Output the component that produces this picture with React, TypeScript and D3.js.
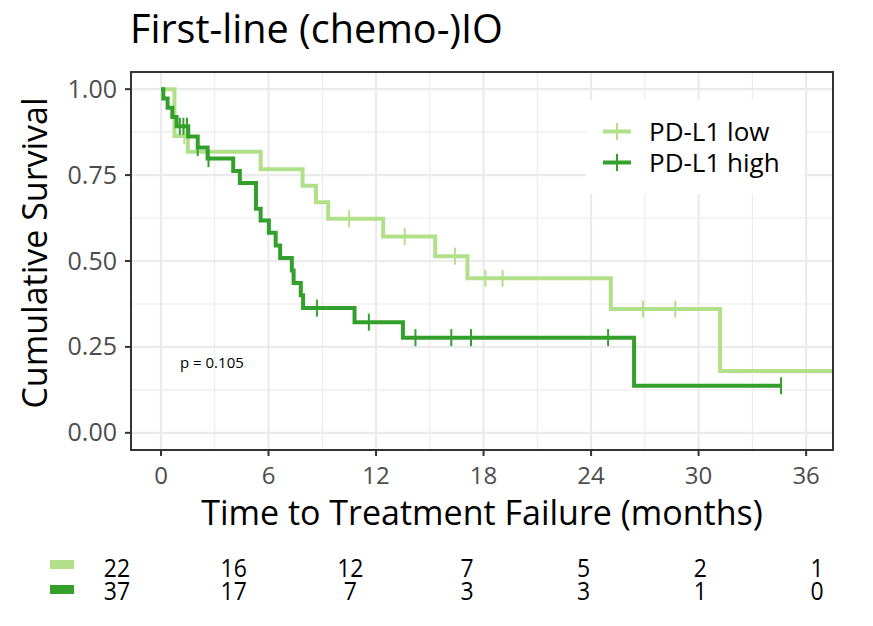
import React from "react";
import * as d3 from "d3";

const W = 873;
const H = 626;

const title = "First-line (chemo-)IO";
const xTitle = "Time to Treatment Failure (months)";
const yTitle = "Cumulative Survival";
const pValueText = "p = 0.105";

const timeTicks = [0, 6, 12, 18, 24, 30, 36];
const timeMinor = [3, 9, 15, 21, 27, 33];
const survTicks = [0, 0.25, 0.5, 0.75, 1];
const survMinor = [0.125, 0.375, 0.625, 0.875];

const groupNames = ["PD-L1 low", "PD-L1 high"];
const groupColors = ["#B2DF8A", "#33A02C"];

// PD-L1 low: step times and survival after each step
const lowStepTimes = [0, 0.75, 1.5, 5.56, 7.9, 8.65, 9.33, 12.4, 15.3, 17.1, 25.1, 31.2];
const lowStepSurv = [1, 0.864, 0.818, 0.767, 0.719, 0.671, 0.623, 0.571, 0.514, 0.45, 0.36, 0.18];
const lowEndTime = 38.5;
const lowCensorTimes = [1.3, 10.5, 13.6, 16.4, 18.1, 19.06, 26.9, 28.7];

// PD-L1 high
const highStepTimes = [0, 0.13, 0.37, 0.63, 0.87, 1.52, 2.05, 2.6, 4.03, 4.4, 5.3, 5.56, 6.02, 6.4, 6.65, 7.3, 7.4, 7.8, 7.93, 10.8, 13.5, 26.4];
const highStepSurv = [1, 0.973, 0.946, 0.919, 0.892, 0.862, 0.83, 0.798, 0.762, 0.727, 0.652, 0.618, 0.582, 0.545, 0.509, 0.472, 0.436, 0.4, 0.363, 0.322, 0.277, 0.137];
const highEndTime = 34.6;
const highCensorTimes = [1.05, 1.25, 1.45, 2.05, 2.65, 8.7, 11.6, 14.2, 16.2, 17.3, 24.95, 34.6];

// Numbers at risk
const riskTimes = [0, 6, 12, 18, 24, 30, 36];
const lowAtRisk = [22, 16, 12, 7, 5, 2, 1];
const highAtRisk = [37, 17, 7, 3, 3, 1, 0];

const FONT = "'Open Sans', 'Noto Sans', sans-serif";

function survAt(times: number[], surv: number[], t: number) {
  let s = surv[0];
  for (let i = 0; i < times.length; i++) if (times[i] <= t) s = surv[i];
  return s;
}

export default function App() {
  const panel = { left: 131, right: 833, top: 72, bottom: 450 };
  const x = d3.scaleLinear().domain([-1.674, 37.5]).range([panel.left, panel.right]);
  const y = d3.scaleLinear().domain([-0.05, 1.05]).range([panel.bottom, panel.top]);
  const riskX = d3.scaleLinear().domain([0, 36]).range([117, 817]);

  const line = d3
    .line<[number, number]>()
    .x((d) => x(d[0]))
    .y((d) => y(d[1]))
    .curve(d3.curveStepAfter);

  const series = [
    { times: lowStepTimes, surv: lowStepSurv, end: lowEndTime, censor: lowCensorTimes, color: groupColors[0] },
    { times: highStepTimes, surv: highStepSurv, end: highEndTime, censor: highCensorTimes, color: groupColors[1] },
  ];

  const legend = { x: 586, y: 100, w: 218, h: 94 };

  return (
    <svg width={W} height={H} style={{ position: "absolute", left: 0, top: 0, background: "#fff" }} fontFamily={FONT}>
      <rect x={0} y={0} width={W} height={H} fill="#fff" />
      <defs>
        <clipPath id="panelClip">
          <rect x={panel.left} y={panel.top} width={panel.right - panel.left} height={panel.bottom - panel.top} />
        </clipPath>
      </defs>
      <text x={130} y={43} fontSize={39.6} fill="#000">{title}</text>

      {/* grid */}
      <g clipPath="url(#panelClip)">
        {timeMinor.map((t) => (
          <line key={"xm" + t} x1={x(t)} x2={x(t)} y1={panel.top} y2={panel.bottom} stroke="#EBEBEB" strokeWidth={1.1} />
        ))}
        {survMinor.map((s) => (
          <line key={"ym" + s} x1={panel.left} x2={panel.right} y1={y(s)} y2={y(s)} stroke="#EBEBEB" strokeWidth={1.1} />
        ))}
        {timeTicks.map((t) => (
          <line key={"xg" + t} x1={x(t)} x2={x(t)} y1={panel.top} y2={panel.bottom} stroke="#EBEBEB" strokeWidth={2.2} />
        ))}
        {survTicks.map((s) => (
          <line key={"yg" + s} x1={panel.left} x2={panel.right} y1={y(s)} y2={y(s)} stroke="#EBEBEB" strokeWidth={2.2} />
        ))}
      </g>

      {/* curves */}
      <g clipPath="url(#panelClip)">
        {series.map((s, i) => {
          const pts: [number, number][] = s.times.map((t, j) => [t, s.surv[j]] as [number, number]);
          pts.push([s.end, s.surv[s.surv.length - 1]]);
          return (
            <g key={"s" + i}>
              <path d={line(pts) || ""} fill="none" stroke={s.color} strokeWidth={4} />
              {s.censor.map((c, k) => {
                const yy = y(survAt(s.times, s.surv, c));
                return <line key={k} x1={x(c)} x2={x(c)} y1={yy - 8.5} y2={yy + 8.5} stroke={s.color} strokeWidth={2} />;
              })}
            </g>
          );
        })}
      </g>

      <text x={180} y={368} fontSize={15} fill="#000">{pValueText}</text>

      {/* legend */}
      <rect x={legend.x} y={legend.y} width={legend.w} height={legend.h} fill="#fff" />
      {groupNames.map((g, i) => {
        const cy = 131.5 + i * 31;
        return (
          <g key={g}>
            <line x1={603} x2={631} y1={cy} y2={cy} stroke={groupColors[i]} strokeWidth={4} />
            <line x1={617} x2={617} y1={cy - 8.5} y2={cy + 8.5} stroke={groupColors[i]} strokeWidth={2} />
            <text x={649} y={cy + 9.5} fontSize={26} fill="#000">{g}</text>
          </g>
        );
      })}

      {/* panel border */}
      <rect x={panel.left} y={panel.top} width={panel.right - panel.left} height={panel.bottom - panel.top} fill="none" stroke="#333" strokeWidth={2} />

      {/* axes ticks */}
      {timeTicks.map((t) => (
        <g key={"xt" + t}>
          <line x1={x(t)} x2={x(t)} y1={panel.bottom} y2={panel.bottom + 6} stroke="#333" strokeWidth={2} />
          <text x={x(t)} y={484} fontSize={24} fill="#4D4D4D" textAnchor="middle">{String(t)}</text>
        </g>
      ))}
      {survTicks.map((s) => (
        <g key={"yt" + s}>
          <line x1={panel.left - 6} x2={panel.left} y1={y(s)} y2={y(s)} stroke="#333" strokeWidth={2} />
          <text x={117} y={y(s) + 8.5} fontSize={25} fill="#4D4D4D" textAnchor="end">{s.toFixed(2)}</text>
        </g>
      ))}

      <text x={(panel.left + panel.right) / 2} y={525} fontSize={34} fill="#000" textAnchor="middle">{xTitle}</text>
      <text transform={`translate(47, ${(panel.top + panel.bottom) / 2 - 8}) rotate(-90)`} fontSize={34} fill="#000" textAnchor="middle">{yTitle}</text>

      {/* risk table */}
      <rect x={50} y={560} width={24} height={9} fill={groupColors[0]} />
      <rect x={50} y={585} width={24} height={9} fill={groupColors[1]} />
      {riskTimes.map((t, i) => (
        <g key={"r" + t}>
          <text x={riskX(t)} y={577} fontSize={23} fill="#000" textAnchor="middle" transform={`translate(${riskX(t)},577) scale(1,1.12) translate(${-riskX(t)},-577)`}>{String(lowAtRisk[i])}</text>
          <text x={riskX(t)} y={600} fontSize={23} fill="#000" textAnchor="middle" transform={`translate(${riskX(t)},600) scale(1,1.12) translate(${-riskX(t)},-600)`}>{String(highAtRisk[i])}</text>
        </g>
      ))}
    </svg>
  );
}
